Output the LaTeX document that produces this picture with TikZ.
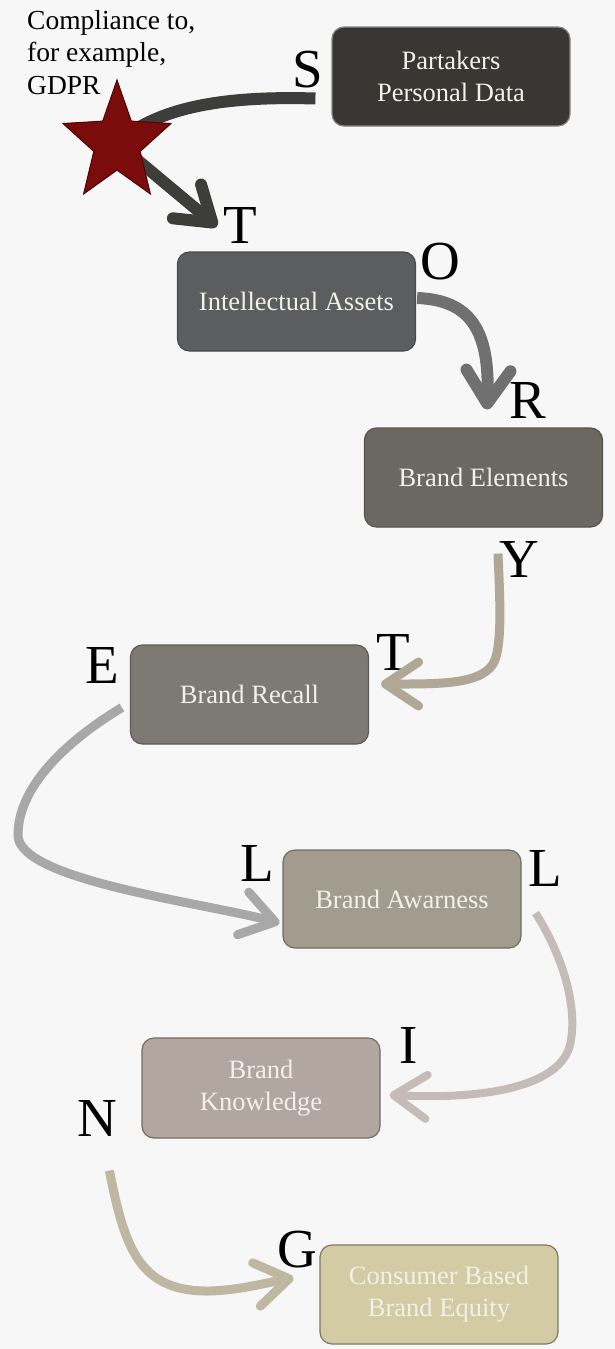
\documentclass[tikz,border=0pt]{standalone}
\usepackage{fontspec}
\setmainfont{Liberation Serif}
\usetikzlibrary{arrows.meta}
\definecolor{bg}{HTML}{F7F7F7}
\definecolor{boxtext}{HTML}{F3F0EA}
\definecolor{cA}{HTML}{393734}
\definecolor{cB}{HTML}{5C5D5F}
\definecolor{cC}{HTML}{6B6761}
\definecolor{cD}{HTML}{7D7A74}
\definecolor{cE}{HTML}{A39B8D}
\definecolor{cF}{HTML}{B1A7A0}
\definecolor{cG}{HTML}{D2CBA4}
\definecolor{aDark}{HTML}{3D3D3A}
\definecolor{aO}{HTML}{707070}
\definecolor{aY}{HTML}{B0A796}
\definecolor{aE}{HTML}{A8A8A8}
\definecolor{aL}{HTML}{C5BCB7}
\definecolor{aN}{HTML}{C0B7A2}
\definecolor{starfill}{HTML}{7A0C0C}
\definecolor{starline}{HTML}{4D0505}
\begin{document}
\begin{tikzpicture}[x=1pt,y=-1pt,
  box/.style={rounded corners=12pt, minimum width=238pt, minimum height=99pt,
    line width=1.2pt, align=center, text=boxtext, inner sep=0pt,
    font=\fontsize{26.5}{32}\selectfont},
  letter/.style={inner sep=0pt, font=\fontsize{55}{55}\selectfont},
  conn/.style={line width=#1, line cap=butt,
    -{Straight Barb[length=33pt,width=44pt,round]}},
  plainconn/.style={line width=#1, line cap=butt}]
\fill[bg] (0,0) rectangle (615,1349);
\useasboundingbox (0,0) rectangle (615,1349);

% boxes
\node[box, fill=cA, draw=cA!60!white] (pd) at (451,76.5) {Partakers\\Personal Data};
\node[box, fill=cB, draw=cB!80!black] (ia) at (296.5,301.5) {Intellectual Assets};
\node[box, fill=cC, draw=cC!80!black] (be) at (483.5,477.5) {Brand Elements};
\node[box, fill=cD, draw=cD!75!black] (br) at (249.5,694.5) {Brand Recall};
\node[box, fill=cE, draw=cE!70!black, minimum height=98pt] (ba) at (402,899) {Brand Awarness};
\node[box, fill=cF, draw=cF!65!black, minimum height=100pt] (bk) at (261,1088) {Brand\\Knowledge};
\node[box, fill=cG, draw=cG!60!black] (cb) at (439,1294.5) {Consumer Based\\Brand Equity};

% compliance text
\node[anchor=north west, inner sep=0pt, align=left,
  font=\fontsize{27.5}{32.5}\selectfont] (gdpr) at (27,10) {Compliance to,\\for example,\\GDPR};

% letters
\node[letter] (lS) at (308,70) {S};
\node[letter] (lT) at (240,225) {T};
\node[letter] (lO) at (440,262) {O};
\node[letter] (lR) at (528,400) {R};
\node[letter] (lY) at (519,559) {Y};
\node[letter] (lT2) at (393,652) {T};
\node[letter] (lE) at (102,665) {E};
\node[letter] (lL) at (257,863) {L};
\node[letter] (lL2) at (545,868) {L};
\node[letter] (lI) at (409,1045) {I};
\node[letter] (lN) at (97,1118) {N};
\node[letter] (lG) at (297,1250) {G};

% star centre
\coordinate (star) at (117,143);

% connectors
\draw[plainconn=12pt, aDark] ([xshift=-16pt,yshift=-22pt]pd.west)
  .. controls (230,96) and (160,105) .. (star);
\draw[conn=12pt, aDark] (star) -- ([xshift=40pt,yshift=25pt]ia.north west);

\draw[conn=12pt, aO] ([xshift=1pt,yshift=3.5pt]ia.east)
  .. controls (470,300) and (490,330) .. ([xshift=3.5pt,yshift=18pt]be.north);

\draw[conn=9pt, aY] ([xshift=14.5pt,yshift=-26pt]be.south)
  .. controls (500,600) and (502,640) .. (495,660)
  .. controls (485,685) and (440,684) .. ([xshift=12pt,yshift=10.5pt]br.east);

\draw[conn=9pt, aE] ([xshift=-8pt,yshift=-13pt]br.west)
  .. controls (60,745) and (18,790) .. (18,835)
  .. controls (18,880) and (200,902) .. ([xshift=-3pt,yshift=-24pt]ba.west);

\draw[conn=8pt, aL] ([xshift=14pt,yshift=-14pt]ba.east)
  .. controls (565,960) and (578,1010) .. (570,1045)
  .. controls (560,1085) and (490,1100) .. ([xshift=9pt,yshift=-7pt]bk.east);

\draw[conn=9pt, aN] ([xshift=-32pt,yshift=-32pt]bk.south west)
  .. controls (125,1250) and (140,1292) .. (210,1291)
  .. controls (240,1290) and (265,1283) .. ([xshift=-26pt,yshift=16.5pt]cb.west);

% star
\filldraw[fill=starfill, draw=starline, line width=1pt, line join=miter]
  (117,80) -- (131.3,121.1) -- (171,123.5) -- (140.2,151.4) -- (150.4,194)
  -- (117,170.1) -- (83.6,194) -- (93.8,151.4) -- (63,123.5) -- (102.7,121.1) -- cycle;
\end{tikzpicture}
\end{document}
